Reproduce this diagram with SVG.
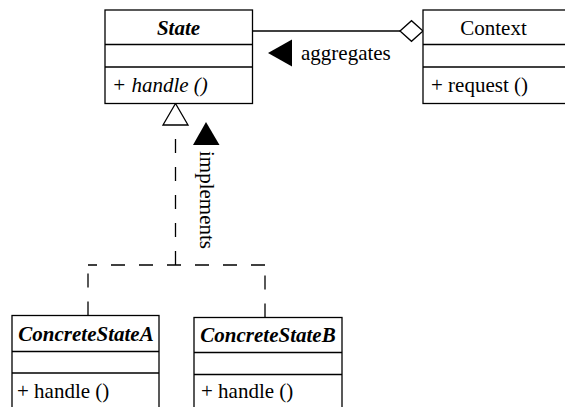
<svg xmlns="http://www.w3.org/2000/svg" width="565" height="407" viewBox="0 0 565 407">
  <style>
    .box { fill: #ffffff; stroke: #000000; stroke-width: 1.3; }
    .div { stroke: #000000; stroke-width: 1.3; fill: none; }
    .t { font-family: "Liberation Serif", "Times New Roman", serif; font-size: 21px; fill: #000000; }
    .title { font-weight: bold; font-style: italic; text-anchor: middle; }
    .plain-title { text-anchor: middle; }
    .it { font-style: italic; }
    .link { stroke: #000000; stroke-width: 1.3; fill: none; }
    .dash { stroke-dasharray: 14 14; }
    .solid { fill: #000000; stroke: none; }
    .hollow { fill: #ffffff; stroke: #000000; stroke-width: 1.3; }
  </style>

  <!-- connectors -->
  <g id="connectors">
    <!-- aggregation: Context holds a State -->
    <line class="link" x1="252.5" y1="31" x2="400" y2="31"/>
    <polygon class="hollow" points="400,31 411.5,20.7 423,31 411.5,41.3"/>
    <polygon class="solid" points="268,53 292,39.5 292,66.5"/>
    <text class="t" x="301" y="60">aggregates</text>

    <!-- realization: concrete states implement State -->
    <path class="link dash" d="M175.5,265 V125"/>
    <path class="link dash" d="M265,265 H88"/>
    <path class="link dash" d="M88,315.5 V265"/>
    <path class="link dash" d="M265,317.5 V265"/>
    <polygon class="hollow" points="175.5,103.5 163,125 188,125"/>
    <polygon class="solid" points="206,122 193,145 219.5,145"/>
    <text class="t" transform="translate(199.5,151) rotate(90)">implements</text>
  </g>

  <!-- abstract State -->
  <g id="state">
    <rect class="box" x="105" y="10" width="147.5" height="93.5"/>
    <line class="div" x1="105" y1="44.5" x2="252.5" y2="44.5"/>
    <line class="div" x1="105" y1="67" x2="252.5" y2="67"/>
    <text class="t title" x="178.5" y="35">State</text>
    <text class="t it" x="112" y="92">+ handle ()</text>
  </g>

  <!-- Context -->
  <g id="context">
    <rect class="box" x="423" y="10" width="160" height="93.5"/>
    <line class="div" x1="423" y1="44.5" x2="583" y2="44.5"/>
    <line class="div" x1="423" y1="67" x2="583" y2="67"/>
    <text class="t plain-title" x="493.5" y="35">Context</text>
    <text class="t" x="431" y="92">+ request ()</text>
  </g>

  <!-- ConcreteStateA -->
  <g id="concrete-state-a">
    <rect class="box" x="12" y="315.5" width="147" height="110"/>
    <line class="div" x1="12" y1="351.5" x2="159" y2="351.5"/>
    <line class="div" x1="12" y1="373" x2="159" y2="373"/>
    <text class="t title" x="86" y="341">ConcreteStateA</text>
    <text class="t" x="17" y="398">+ handle ()</text>
  </g>

  <!-- ConcreteStateB -->
  <g id="concrete-state-b">
    <rect class="box" x="194" y="317.5" width="148" height="110"/>
    <line class="div" x1="194" y1="352.5" x2="342" y2="352.5"/>
    <line class="div" x1="194" y1="374.5" x2="342" y2="374.5"/>
    <text class="t title" x="268" y="342">ConcreteStateB</text>
    <text class="t" x="201" y="398">+ handle ()</text>
  </g>
</svg>
